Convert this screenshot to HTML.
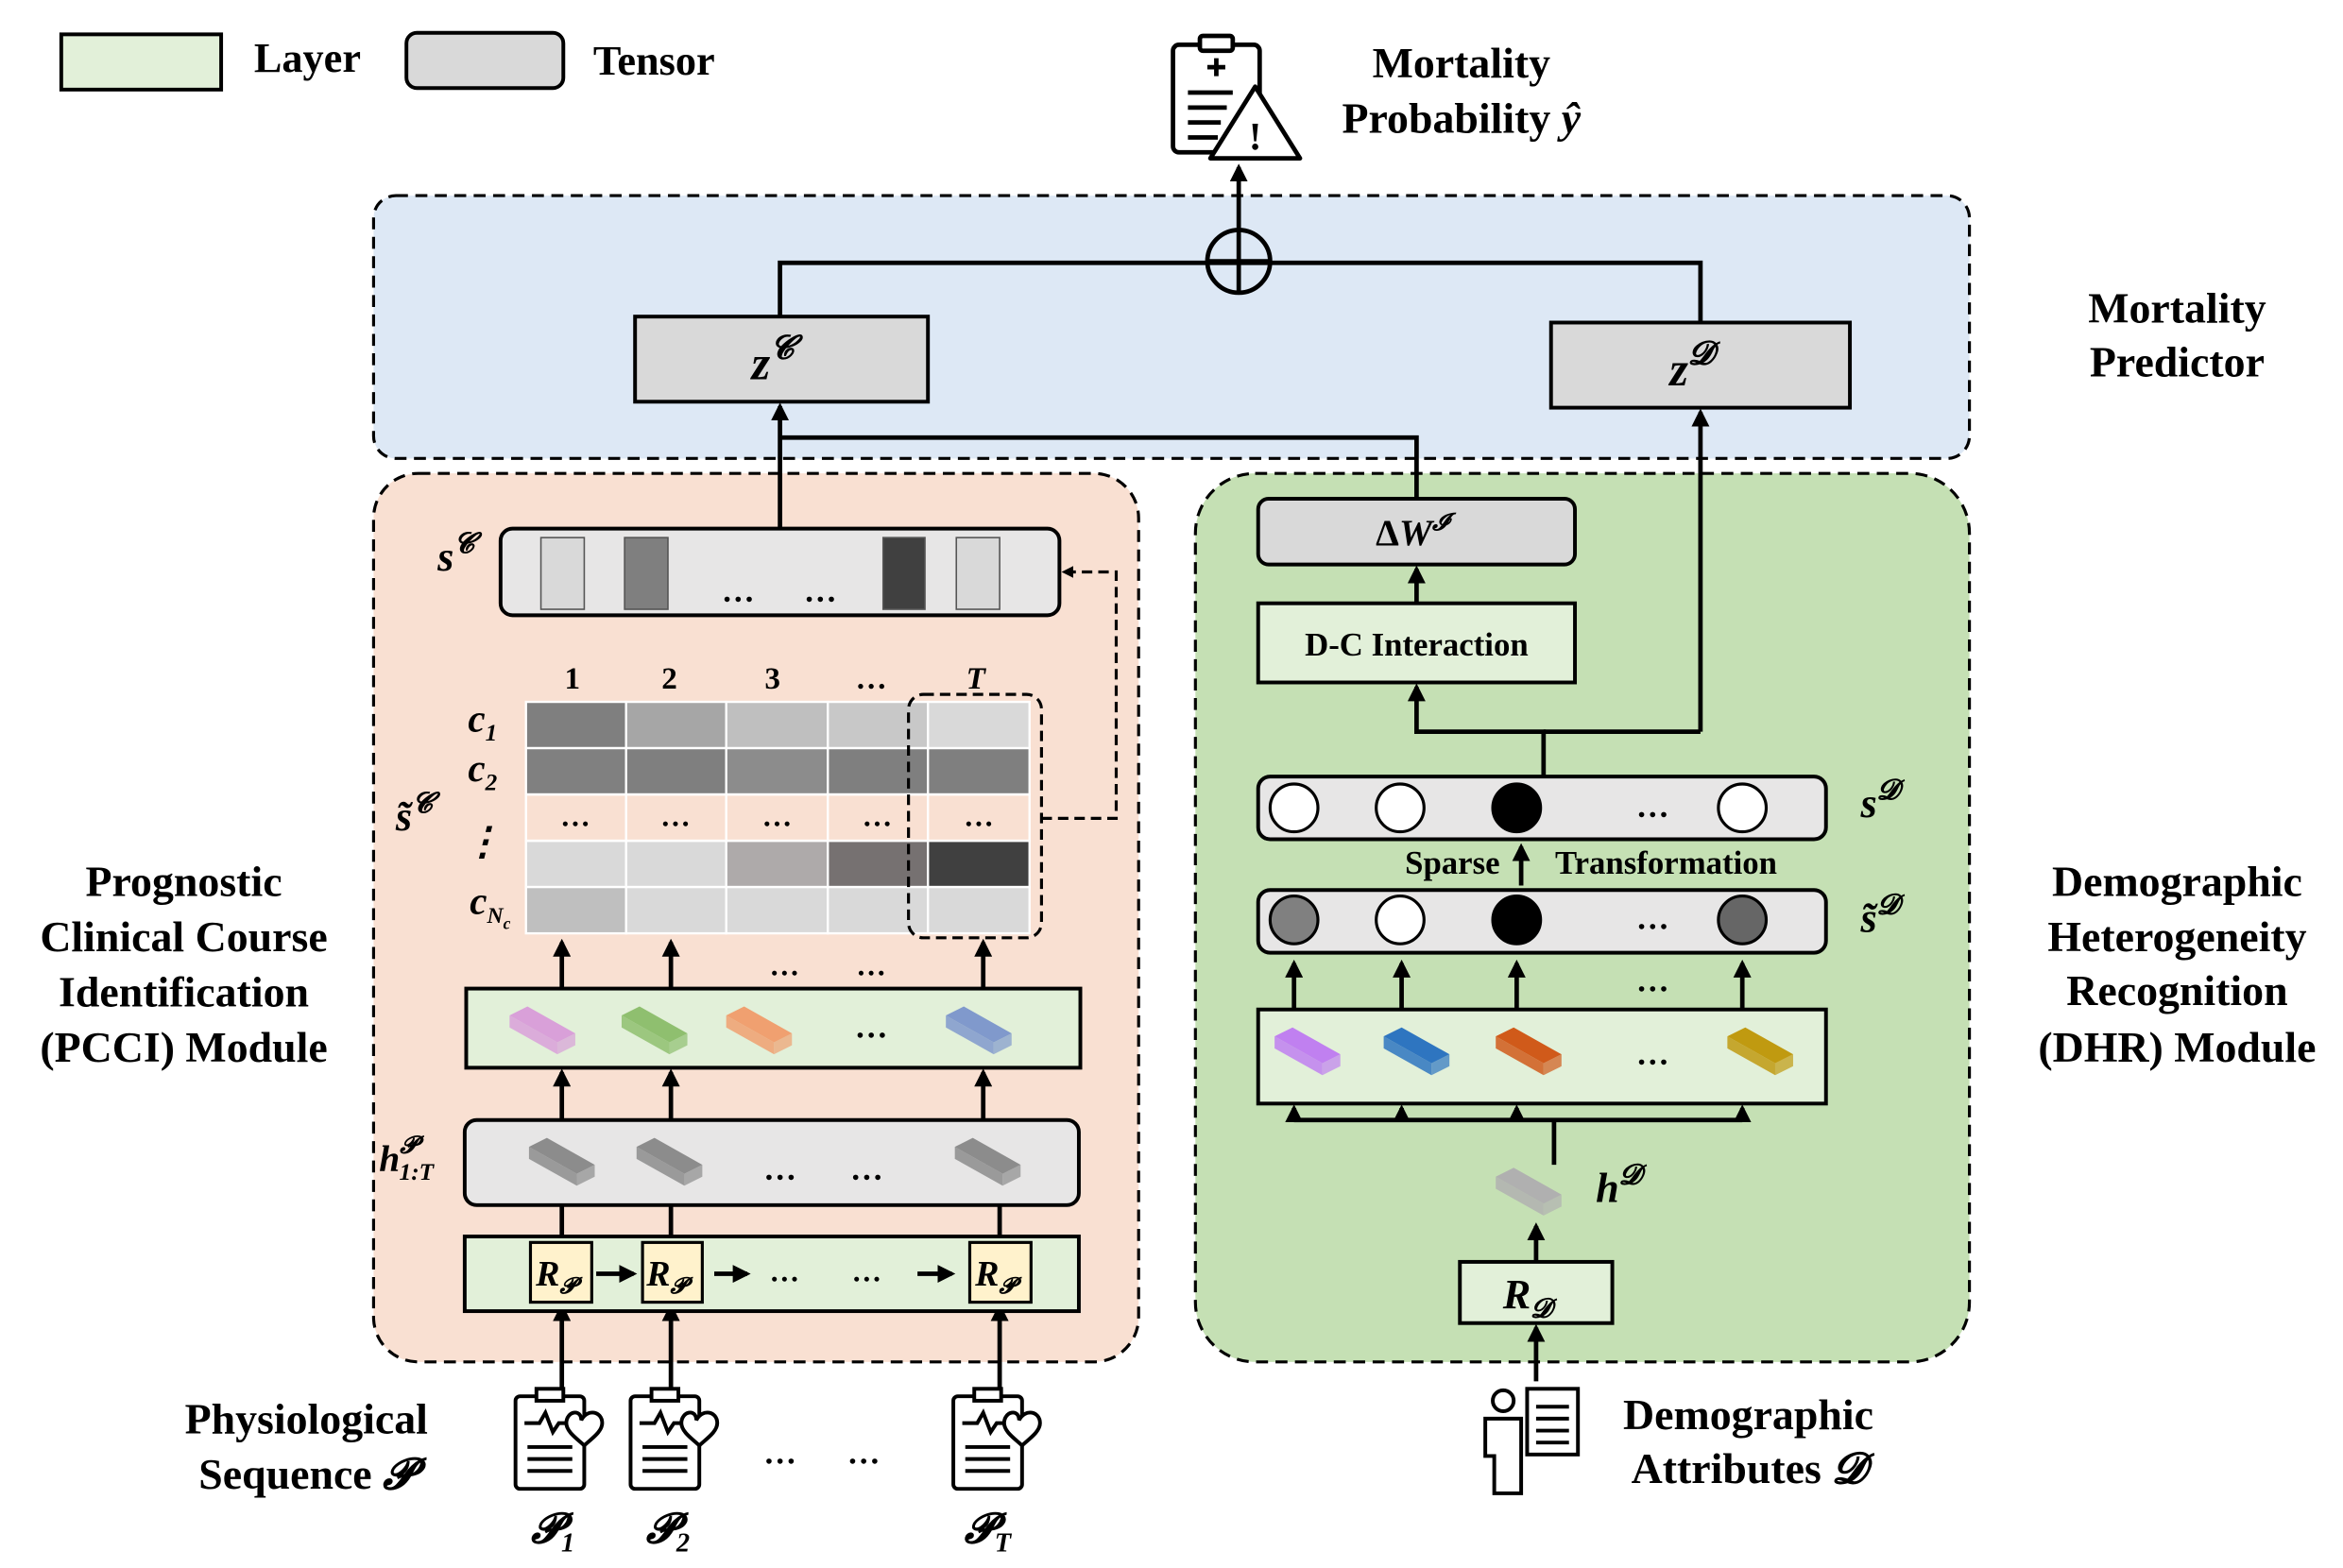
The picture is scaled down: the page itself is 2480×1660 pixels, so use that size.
<!DOCTYPE html>
<html><head><meta charset="utf-8"><style>
html,body{margin:0;padding:0;background:#fff}
svg{display:block}
text{font-family:"Liberation Serif","DejaVu Serif",serif;font-weight:bold;fill:#000}
.it{font-style:italic}
</style></head><body>
<svg width="2480" height="1660" viewBox="0 0 1568 1050" preserveAspectRatio="none" xmlns="http://www.w3.org/2000/svg">
<defs>
<marker id="ar" viewBox="0 0 10 10" refX="8" refY="5" markerWidth="4" markerHeight="4" orient="auto"><path d="M0,0L10,5L0,10z" fill="#000"/></marker>
<g id="slab"><polygon points="-24,-8 -12,-14 20,4 8,10" /><polygon points="-24,-8 8,10 8,18 -24,0" opacity="0.85"/><polygon points="8,10 20,4 20,12 8,18" opacity="0.7"/></g>
</defs>
<rect width="1568" height="1050" fill="#fff"/>
<rect x="41" y="23" width="107" height="37" fill="#e2f0d9" stroke="#000" stroke-width="2.5"/>
<text x="170" y="48" font-size="28">Layer</text>
<rect x="272" y="22" width="105" height="37" rx="7" fill="#d9d9d9" stroke="#000" stroke-width="2.5"/>
<text x="397" y="50" font-size="28">Tensor</text>
<g stroke="#000" stroke-width="3" fill="#fff">
<rect x="785" y="30" width="58" height="72" rx="4"/>
<rect x="803" y="24" width="22" height="10" rx="2"/>
<path d="M808,45h12M814,39v12" />
<path d="M795,62h30M795,72h26M795,82h22M795,92h20"/>
<path d="M840,58L870,106L810,106z" stroke-linejoin="round"/>
</g>
<text x="840" y="100" font-size="26" text-anchor="middle">!</text>
<text x="978" y="52" font-size="29" text-anchor="middle">Mortality</text>
<text x="978" y="89" font-size="29" text-anchor="middle">Probability <tspan class="it">ŷ</tspan></text>
<rect x="250" y="131" width="1068" height="176" rx="15" fill="#dde8f5" stroke="#000" stroke-width="2" stroke-dasharray="8,5"/>
<text x="1457" y="216" font-size="29" text-anchor="middle">Mortality</text>
<text x="1457" y="252" font-size="29" text-anchor="middle">Predictor</text>
<rect x="250" y="317" width="512" height="595" rx="30" fill="#f9e0d2" stroke="#000" stroke-width="2" stroke-dasharray="8,5"/>
<rect x="800" y="317" width="518" height="595" rx="40" fill="#c5e0b4" stroke="#000" stroke-width="2" stroke-dasharray="8,5"/>
<g stroke="#000" stroke-width="3" fill="none">
<path d="M522,212V176H1138V216"/>
<circle cx="829" cy="175" r="21"/>
<path d="M808,175h42M829,154v42"/>
<path d="M829,154V112" marker-end="url(#ar)"/>
<path d="M522,353V272" marker-end="url(#ar)"/>
<path d="M522,293H948V333"/>
<path d="M1138,490V276" marker-end="url(#ar)"/>
</g>
<rect x="425" y="212" width="196" height="57" fill="#d9d9d9" stroke="#000" stroke-width="2.5"/>
<text x="517" y="254" font-size="32" text-anchor="middle" class="it">z<tspan font-size="22" dy="-14">𝓒</tspan></text>
<rect x="1038" y="216" width="200" height="57" fill="#d9d9d9" stroke="#000" stroke-width="2.5"/>
<text x="1132" y="258" font-size="32" text-anchor="middle" class="it">z<tspan font-size="22" dy="-14">𝓓</tspan></text>
<rect x="335" y="354" width="374" height="58" rx="8" fill="#e7e6e6" stroke="#000" stroke-width="2.5"/>
<rect x="362" y="360" width="29" height="48" fill="#d9d9d9" stroke="#555"/>
<rect x="418" y="360" width="29" height="48" fill="#7f7f7f" stroke="#555"/>
<rect x="591" y="360" width="28" height="48" fill="#404040" stroke="#555"/>
<rect x="640" y="360" width="29" height="48" fill="#d9d9d9" stroke="#555"/>
<text x="494" y="403" font-size="22" text-anchor="middle">…</text>
<text x="549" y="403" font-size="22" text-anchor="middle">…</text>
<text x="305" y="382" font-size="28" text-anchor="middle" class="it">s<tspan font-size="19" dy="-12">𝓒</tspan></text>
<path d="M697,548H747V383H712" stroke="#000" stroke-width="2" fill="none" stroke-dasharray="7,4" marker-end="url(#ar)"/>
<g stroke="#fff" stroke-width="1.5">
<rect x="352" y="470" width="67" height="31" fill="#7f7f7f"/><rect x="419" y="470" width="67" height="31" fill="#a6a6a6"/><rect x="486" y="470" width="68" height="31" fill="#bfbfbf"/><rect x="554" y="470" width="67" height="31" fill="#c8c8c8"/><rect x="621" y="470" width="68" height="31" fill="#d9d9d9"/>
<rect x="352" y="501" width="67" height="31" fill="#808080"/><rect x="419" y="501" width="67" height="31" fill="#7f7f7f"/><rect x="486" y="501" width="68" height="31" fill="#8c8c8c"/><rect x="554" y="501" width="67" height="31" fill="#7f7f7f"/><rect x="621" y="501" width="68" height="31" fill="#7f7f7f"/>
<rect x="352" y="563" width="67" height="31" fill="#d9d9d9"/><rect x="419" y="563" width="67" height="31" fill="#d9d9d9"/><rect x="486" y="563" width="68" height="31" fill="#aeaaaa"/><rect x="554" y="563" width="67" height="31" fill="#767171"/><rect x="621" y="563" width="68" height="31" fill="#404040"/>
<rect x="352" y="594" width="67" height="31" fill="#bfbfbf"/><rect x="419" y="594" width="67" height="31" fill="#d9d9d9"/><rect x="486" y="594" width="68" height="31" fill="#d9d9d9"/><rect x="554" y="594" width="67" height="31" fill="#d9d9d9"/><rect x="621" y="594" width="68" height="31" fill="#d9d9d9"/>
</g>
<g stroke="#fff" stroke-width="1.5" fill="none"><rect x="352" y="532" width="337" height="31"/><path d="M419,532v31M486,532v31M554,532v31M621,532v31"/></g>
<g font-size="20" text-anchor="middle"><text x="385" y="553">…</text><text x="452" y="553">…</text><text x="520" y="553">…</text><text x="587" y="553">…</text><text x="655" y="553">…</text></g>
<g font-size="21" text-anchor="middle"><text x="383" y="461" font-weight="normal">1</text><text x="448" y="461" font-weight="normal">2</text><text x="517" y="461" font-weight="normal">3</text><text x="583" y="461" font-weight="normal">…</text><text x="653" y="461" class="it" font-weight="normal">T</text></g>
<g font-size="26" text-anchor="middle" class="it"><text x="323" y="490">c<tspan font-size="16" dy="6">1</tspan></text><text x="323" y="523">c<tspan font-size="16" dy="6">2</tspan></text><text x="323" y="572">⋮</text><text x="328" y="612">c<tspan font-size="15" dy="6">N</tspan><tspan font-size="11" dy="4">c</tspan></text></g>
<text x="277" y="556" font-size="28" text-anchor="middle" class="it">s̃<tspan font-size="19" dy="-12">𝓒</tspan></text>
<rect x="608" y="465" width="89" height="163" rx="10" fill="none" stroke="#000" stroke-width="2" stroke-dasharray="7,4"/>
<g stroke="#000" stroke-width="3" fill="none">
<path d="M376,662V631" marker-end="url(#ar)"/><path d="M449,662V631" marker-end="url(#ar)"/><path d="M658,662V631" marker-end="url(#ar)"/>
<path d="M376,750V718" marker-end="url(#ar)"/><path d="M449,750V718" marker-end="url(#ar)"/><path d="M658,750V718" marker-end="url(#ar)"/>
<path d="M376,832V792" marker-end="url(#ar)"/><path d="M449,832V792" marker-end="url(#ar)"/><path d="M669,832V792" marker-end="url(#ar)"/>
<path d="M376,930V875" marker-end="url(#ar)"/><path d="M449,930V875" marker-end="url(#ar)"/><path d="M669,930V875" marker-end="url(#ar)"/>
</g>
<text x="525" y="653" font-size="20" text-anchor="middle">…</text><text x="583" y="653" font-size="20" text-anchor="middle">…</text>
<rect x="312" y="662" width="411" height="53" fill="#e2f0d9" stroke="#000" stroke-width="2.5"/>
<use href="#slab" x="365" y="688" fill="#d9a0d9"/>
<use href="#slab" x="440" y="688" fill="#8fbf6f"/>
<use href="#slab" x="510" y="688" fill="#f0a070"/>
<use href="#slab" x="657" y="688" fill="#8099cc"/>
<text x="583" y="695" font-size="22" text-anchor="middle">…</text>
<rect x="311" y="750" width="411" height="57" rx="8" fill="#e7e6e6" stroke="#000" stroke-width="2.5"/>
<use href="#slab" x="378" y="776" fill="#8c8c8c"/>
<use href="#slab" x="450" y="776" fill="#8c8c8c"/>
<use href="#slab" x="663" y="776" fill="#8c8c8c"/>
<text x="522" y="790" font-size="22" text-anchor="middle">…</text><text x="580" y="790" font-size="22" text-anchor="middle">…</text>
<text x="272" y="784" font-size="25" text-anchor="middle" class="it">h<tspan font-size="16" dy="-12">𝓟</tspan><tspan font-size="16" dx="-12" dy="18">1:T</tspan></text>
<rect x="311" y="828" width="411" height="50" fill="#e2f0d9" stroke="#000" stroke-width="2.5"/>
<g stroke="#000" stroke-width="2" fill="#fff2cc"><rect x="355" y="832" width="41" height="40"/><rect x="430" y="832" width="40" height="40"/><rect x="649" y="832" width="41" height="40"/></g>
<g font-size="24" class="it" text-anchor="middle"><text x="372" y="861">R<tspan font-size="15" dy="5">𝓟</tspan></text><text x="446" y="861">R<tspan font-size="15" dy="5">𝓟</tspan></text><text x="666" y="861">R<tspan font-size="15" dy="5">𝓟</tspan></text></g>
<g stroke="#000" stroke-width="3" fill="none">
<path d="M399,853H424" marker-end="url(#ar)"/><path d="M478,853H500" marker-end="url(#ar)"/><path d="M614,853H637" marker-end="url(#ar)"/>
</g>
<text x="525" y="858" font-size="20" text-anchor="middle">…</text><text x="580" y="858" font-size="20" text-anchor="middle">…</text>
<g stroke="#000" stroke-width="2.5" fill="#fff">
<g transform="translate(345,935)"><rect x="0" y="0" width="46" height="62" rx="3"/><rect x="14" y="-5" width="18" height="8"/><path d="M6,18h10l4,-7l5,13l4,-6h10M8,34h30M8,42h30M8,50h30"/><path d="M44,16c4,-8 14,-6 14,2c0,6 -8,11 -12,15c-4,-4 -12,-9 -12,-15c0,-8 10,-10 10,-2z"/></g>
<g transform="translate(422,935)"><rect x="0" y="0" width="46" height="62" rx="3"/><rect x="14" y="-5" width="18" height="8"/><path d="M6,18h10l4,-7l5,13l4,-6h10M8,34h30M8,42h30M8,50h30"/><path d="M44,16c4,-8 14,-6 14,2c0,6 -8,11 -12,15c-4,-4 -12,-9 -12,-15c0,-8 10,-10 10,-2z"/></g>
<g transform="translate(638,935)"><rect x="0" y="0" width="46" height="62" rx="3"/><rect x="14" y="-5" width="18" height="8"/><path d="M6,18h10l4,-7l5,13l4,-6h10M8,34h30M8,42h30M8,50h30"/><path d="M44,16c4,-8 14,-6 14,2c0,6 -8,11 -12,15c-4,-4 -12,-9 -12,-15c0,-8 10,-10 10,-2z"/></g>
</g>
<text x="522" y="980" font-size="22" text-anchor="middle">…</text><text x="578" y="980" font-size="22" text-anchor="middle">…</text>
<g font-size="28" class="it" text-anchor="middle"><text x="370" y="1033">𝓟<tspan font-size="18" dy="6">1</tspan></text><text x="447" y="1033">𝓟<tspan font-size="18" dy="6">2</tspan></text><text x="661" y="1033">𝓟<tspan font-size="18" dy="6">T</tspan></text></g>
<text x="205" y="960" font-size="29" text-anchor="middle">Physiological</text>
<text x="205" y="997" font-size="29" text-anchor="middle">Sequence <tspan class="it">𝓟</tspan></text>
<g font-size="29" text-anchor="middle"><text x="123" y="600">Prognostic</text><text x="123" y="637">Clinical Course</text><text x="123" y="674">Identification</text><text x="123" y="711">(PCCI) Module</text></g>
<rect x="842" y="334" width="212" height="44" rx="7" fill="#d9d9d9" stroke="#000" stroke-width="2.5"/>
<text x="945" y="365" font-size="25" text-anchor="middle">Δ<tspan class="it">W</tspan><tspan font-size="16" dy="-10" class="it">𝓘</tspan></text>
<rect x="842" y="404" width="212" height="53" fill="#e2f0d9" stroke="#000" stroke-width="2.5"/>
<text x="948" y="439" font-size="22" text-anchor="middle">D-C Interaction</text>
<g stroke="#000" stroke-width="3" fill="none">
<path d="M948,404V381" marker-end="url(#ar)"/>
<path d="M1033,520V490H948V460" marker-end="url(#ar)"/>
<path d="M1033,490H1138"/>
<path d="M1018,593V567" marker-end="url(#ar)"/>
<path d="M866,676V645" marker-end="url(#ar)"/><path d="M938,676V645" marker-end="url(#ar)"/><path d="M1015,676V645" marker-end="url(#ar)"/><path d="M1166,676V645" marker-end="url(#ar)"/>
<path d="M1040,780V750H866M1040,750H1166"/>
<path d="M866,750V742" marker-end="url(#ar)"/><path d="M938,750V742" marker-end="url(#ar)"/><path d="M1015,750V742" marker-end="url(#ar)"/><path d="M1166,750V742" marker-end="url(#ar)"/>
<path d="M1028,845V821" marker-end="url(#ar)"/>
<path d="M1028,925V889" marker-end="url(#ar)"/>
</g>
<rect x="842" y="520" width="380" height="42" rx="8" fill="#e7e6e6" stroke="#000" stroke-width="2.5"/>
<g stroke="#000" stroke-width="2"><circle cx="866" cy="541" r="16" fill="#fff"/><circle cx="937" cy="541" r="16" fill="#fff"/><circle cx="1015" cy="541" r="16" fill="#000"/><circle cx="1166" cy="541" r="16" fill="#fff"/></g>
<text x="1106" y="547" font-size="22" text-anchor="middle">…</text>
<text x="1258" y="547" font-size="28" text-anchor="middle" class="it">s<tspan font-size="19" dy="-12">𝓓</tspan></text>
<text x="972" y="585" font-size="22" text-anchor="middle">Sparse</text>
<text x="1115" y="585" font-size="22" text-anchor="middle">Transformation</text>
<rect x="842" y="596" width="380" height="42" rx="8" fill="#e7e6e6" stroke="#000" stroke-width="2.5"/>
<g stroke="#000" stroke-width="2"><circle cx="866" cy="616" r="16" fill="#808080"/><circle cx="937" cy="616" r="16" fill="#fff"/><circle cx="1015" cy="616" r="16" fill="#000"/><circle cx="1166" cy="616" r="16" fill="#666"/></g>
<text x="1106" y="622" font-size="22" text-anchor="middle">…</text>
<text x="1258" y="624" font-size="28" text-anchor="middle" class="it">s̃<tspan font-size="19" dy="-12">𝓓</tspan></text>
<text x="1106" y="664" font-size="22" text-anchor="middle">…</text>
<rect x="842" y="676" width="380" height="63" fill="#e2f0d9" stroke="#000" stroke-width="2.5"/>
<use href="#slab" x="877" y="702" fill="#c080f0"/>
<use href="#slab" x="950" y="702" fill="#2e75c0"/>
<use href="#slab" x="1025" y="702" fill="#d05a1a"/>
<use href="#slab" x="1180" y="702" fill="#c09a10"/>
<text x="1106" y="713" font-size="22" text-anchor="middle">…</text>
<use href="#slab" x="1025" y="796" fill="#b0b0b0"/>
<text x="1083" y="805" font-size="28" text-anchor="middle" class="it">h<tspan font-size="19" dy="-12">𝓓</tspan></text>
<rect x="977" y="845" width="102" height="41" fill="#e2f0d9" stroke="#000" stroke-width="2.5"/>
<text x="1022" y="876" font-size="28" text-anchor="middle" class="it">R<tspan font-size="18" dy="6">𝓓</tspan></text>
<g stroke="#000" stroke-width="2.5" fill="#fff">
<circle cx="1006" cy="938" r="7"/>
<path d="M994,950h24v50h-18v-25h-6z"/>
<rect x="1022" y="930" width="34" height="44"/>
<path d="M1028,942h22M1028,950h22M1028,958h22M1028,966h22"/>
</g>
<text x="1170" y="957" font-size="29" text-anchor="middle">Demographic</text>
<text x="1170" y="993" font-size="29" text-anchor="middle">Attributes <tspan class="it">𝓓</tspan></text>
<g font-size="29" text-anchor="middle"><text x="1457" y="600">Demographic</text><text x="1457" y="637">Heterogeneity</text><text x="1457" y="673">Recognition</text><text x="1457" y="711">(DHR) Module</text></g>
</svg>
</body></html>
